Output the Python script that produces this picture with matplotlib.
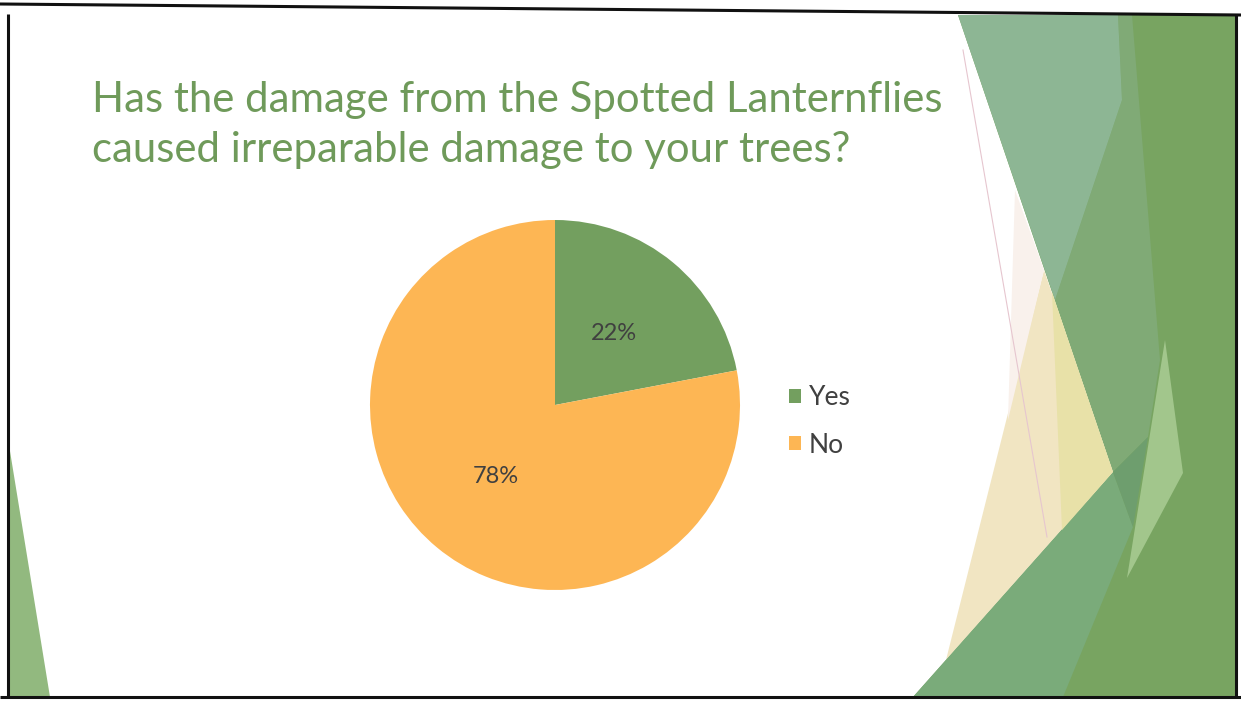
import matplotlib
matplotlib.use("Agg")
import matplotlib.pyplot as plt
from matplotlib.patches import Polygon, Patch
from matplotlib.lines import Line2D

# ---- data ----
categories = ["Yes", "No"]
values = [22, 78]
slice_colors = ["#739f5f", "#fdb654"]
title_lines = ["Has the damage from the Spotted Lanternflies",
               "caused irreparable damage to your trees?"]

plt.rcParams['font.family'] = ['Lato', 'DejaVu Sans']

W, H = 1241, 707
fig = plt.figure(figsize=(W / 100, H / 100), dpi=100)
fig.patch.set_facecolor("white")

# background / decoration axes in pixel coordinates
bg = fig.add_axes([0, 0, 1, 1])
bg.set_xlim(0, W)
bg.set_ylim(H, 0)
bg.axis("off")

def poly(pts, color, z=1, alpha=1.0):
    bg.add_patch(Polygon(pts, closed=True, facecolor=color, edgecolor="none",
                         zorder=z, alpha=alpha))

# right side facets
poly([(958, 15), (1236, 15), (1236, 697), (913, 697), (1113, 472)], "#78a461", 1)
poly([(1118, 15), (1132, 15), (1160, 360), (1148, 437), (1113, 472),
      (1055, 300), (1122, 100)], "#80aa76", 2)
poly([(958, 15), (1118, 15), (1122, 100), (1055, 300)], "#8db694", 3)
poly([(1044, 270), (1113, 472), (946, 660)], "#f1e5c2", 3)
poly([(1015, 190), (1044, 270), (1008, 420)], "#f9f1ec", 3)
poly([(1052, 292), (1113, 472), (1062, 530)], "#e8e1a8", 4)
poly([(1113, 472), (1148, 437), (1133, 527)], "#6e9e6e", 4)
poly([(1165, 340), (1183, 473), (1127, 578)], "#a2c68c", 4)
poly([(1113, 472), (1133, 527), (1063, 697), (913, 697)], "#7aab7a", 3)
bg.add_line(Line2D([963, 1047], [50, 537], color="#e6c6cf", lw=0.8, zorder=5))

# left facet
poly([(9, 445), (50, 697), (8, 697)], "#92b97f", 3)

# scanned slide frame
frame_kw = dict(color="#111111", lw=2.2, zorder=10, solid_capstyle="butt")
bg.add_line(Line2D([0, W], [4, 15], **frame_kw))
bg.add_line(Line2D([8, 8], [14, 697], **frame_kw))
bg.add_line(Line2D([0, W], [697, 697], **frame_kw))
bg.add_line(Line2D([1236, 1236], [15, 697], **frame_kw))

# title
title_color = "#6f9a5a"
t1 = bg.text(92, 111.7, title_lines[0], color=title_color, fontsize=30,
             ha="left", va="baseline", zorder=6)
t2 = bg.text(92, 161.7, title_lines[1], color=title_color, fontsize=30,
             ha="left", va="baseline", zorder=6)
fig.canvas.draw()
r = fig.canvas.get_renderer()
w1 = t1.get_window_extent(r).width
fs = 30 * 848 / w1
t1.set_fontsize(fs)
t2.set_fontsize(fs)

# pie
cx, cy, rad = 555, 405, 185
ax = fig.add_axes([(cx - rad) / W, (H - cy - rad) / H, 2 * rad / W, 2 * rad / H])
wedges, texts, autotexts = ax.pie(values, colors=slice_colors, startangle=90,
                                  counterclock=False, autopct="%1.0f%%",
                                  pctdistance=0.5,
                                  textprops=dict(color="#404040", fontsize=17))
ax.set_xlim(-1, 1)
ax.set_ylim(-1, 1)
ax.set_aspect("equal")

# legend
handles = [Patch(facecolor=c, edgecolor="none") for c in slice_colors]
leg = fig.legend(handles, categories, loc="center left",
                 bbox_to_anchor=(789 / W, 1 - 421.5 / H),
                 frameon=False, fontsize=19, handlelength=0.45,
                 handleheight=0.45, handletextpad=0.3, labelspacing=0.85,
                 borderpad=0, borderaxespad=0)
for txt in leg.get_texts():
    txt.set_color("#404040")

fig.savefig("out.png", dpi=100, facecolor="white")
